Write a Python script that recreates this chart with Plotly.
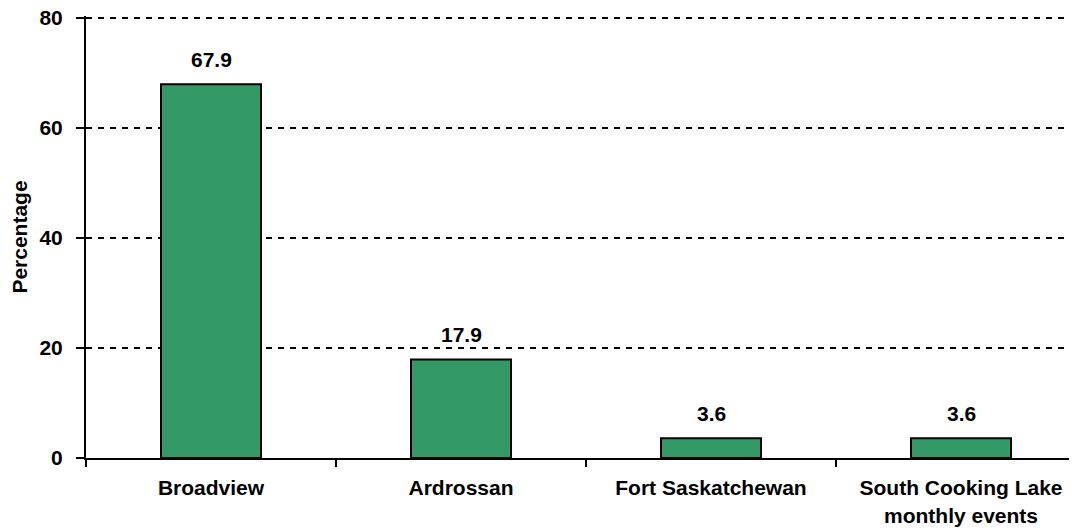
import plotly.graph_objects as go

categories = ["Broadview", "Ardrossan", "Fort Saskatchewan", "South Cooking Lake<br>monthly events"]
values = [67.9, 17.9, 3.6, 3.6]
y_ticks = [0, 20, 40, 60, 80]

FONT = "Liberation Sans, Arial, sans-serif"

# page body has an 8px margin; size figure so the plot lands where the reference has it
W, H = 1069, 521
L, B = 78, 71
Y_TOP = 80.3
PX_PER_UNIT = 5.5
T = H - B - Y_TOP * PX_PER_UNIT
X_END = -0.5 + (W - L) / 250.0

fig = go.Figure()
fig.add_trace(go.Bar(
    x=categories, y=values, width=0.4,
    marker=dict(color="#339966", line=dict(color="black", width=2)),
    hoverinfo="skip",
))
for c, v in zip(categories, values):
    fig.add_annotation(x=c, y=v, text=f"{v:.1f}", showarrow=False,
                       yanchor="middle", yshift=25,
                       font=dict(family=FONT, size=21, color="black", weight="bold"))

fig.update_layout(
    width=W, height=H,
    margin=dict(l=L, r=0, t=T, b=B, autoexpand=False),
    plot_bgcolor="white", paper_bgcolor="white",
    showlegend=False,
    font=dict(family=FONT, color="black"),
)
fig.update_xaxes(
    type="category", range=[-0.5, X_END],
    tickson="boundaries", ticks="outside", ticklen=7, tickwidth=2, tickcolor="black",
    showline=True, linecolor="black", linewidth=2,
    showgrid=False, ticklabelstandoff=10, ticklabeloverflow="allow",
    tickfont=dict(family=FONT, size=21, color="black", weight="bold"),
)
fig.update_yaxes(
    range=[0, Y_TOP], tickvals=y_ticks,
    ticks="outside", ticklen=8, tickwidth=2, tickcolor="black",
    showline=True, linecolor="black", linewidth=2,
    showgrid=True, gridcolor="black", gridwidth=2, griddash="6px,6px",
    zeroline=False, ticklabelstandoff=9, ticklabeloverflow="allow",
    tickfont=dict(family=FONT, size=21, color="black", weight="bold"),
    title=dict(text="Percentage", standoff=9,
               font=dict(family=FONT, size=21, color="black", weight="bold")),
)

fig.write_html("out.html")
